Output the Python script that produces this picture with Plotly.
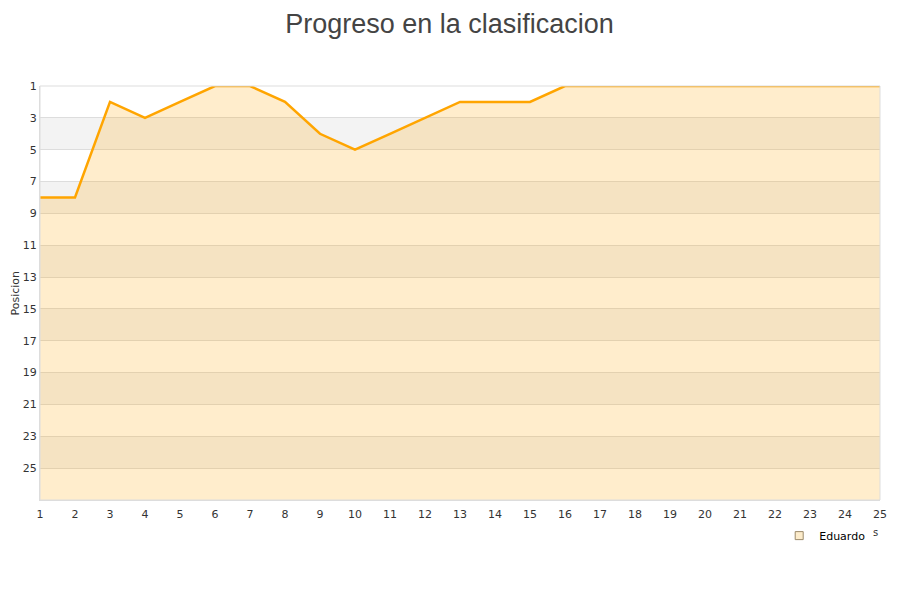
import plotly.graph_objects as go

jornadas = list(range(1, 26))
posiciones = [8, 8, 2, 3, 2, 1, 1, 2, 4, 5, 4, 3, 2, 2, 2, 1, 1, 1, 1, 1, 1, 1, 1, 1, 1]
y_ticks = list(range(1, 26, 2))
baseline = 27

fig = go.Figure()

fig.add_trace(go.Scatter(x=jornadas, y=[baseline] * len(jornadas), mode="lines",
                         line=dict(width=0, color="rgba(0,0,0,0)"), showlegend=False,
                         hoverinfo="skip"))
fig.add_trace(go.Scatter(x=jornadas, y=posiciones, mode="lines", name="Eduardo",
                         line=dict(color="#ffa500", width=2.5), showlegend=False,
                         fill="tonexty", fillcolor="rgba(255,165,0,0.2)"))
fig.add_trace(go.Scatter(x=[None], y=[None], mode="markers", name="Eduardo",
                         marker=dict(symbol="square", size=8, color="#fdeccb",
                                     line=dict(color="#9c8a6a", width=1))))

shapes = []
for lo in range(3, 27, 4):
    shapes.append(dict(type="rect", xref="paper", yref="y", x0=0, x1=1, y0=lo, y1=lo + 2,
                       fillcolor="#f3f3f3", line=dict(width=0), layer="below"))
shapes.append(dict(type="rect", xref="paper", yref="paper", x0=0, x1=1, y0=0, y1=1,
                   line=dict(color="#dddddd", width=1), fillcolor="rgba(0,0,0,0)"))
fig.update_layout(
    width=900, height=600,
    paper_bgcolor="white", plot_bgcolor="white",
    margin=dict(l=32, r=28, t=78, b=108, autoexpand=False),
    title=dict(text="Progreso en la clasificacion", x=441.5 / 900, xanchor="center", y=1 - 15.5 / 600,
               yanchor="middle", yref="container",
               font=dict(family="Liberation Sans, Arial", size=27, color="#444444")),
    font=dict(family="DejaVu Sans", size=11, color="#333333"),
    shapes=shapes,
    xaxis=dict(range=[1, 25], tickmode="array", tickvals=jornadas, showgrid=False,
               zeroline=False, showline=True, linecolor="#dddddd", automargin=False,
               ticks="outside", ticklen=4, tickcolor="rgba(0,0,0,0)",
               tickfont=dict(size=11, color="#333333")),
    yaxis=dict(range=[27, 1], tickmode="array", tickvals=y_ticks, showgrid=True,
               gridcolor="#dddddd", zeroline=False, showline=True, linecolor="#dddddd",
               ticks="", automargin=False, tickfont=dict(size=11, color="#333333")),
    legend=dict(x=0.880, xanchor="left", y=-0.051, yanchor="top", bgcolor="rgba(0,0,0,0)",
                font=dict(size=11, color="#000000")),
    annotations=[
        dict(text="Posicion", textangle=-90, x=0, y=0.5, xref="paper", yref="paper",
             xshift=-25.5, showarrow=False, xanchor="center", yanchor="middle",
             font=dict(size=11, color="#333333")),
        dict(text="s", x=1, y=0, xref="paper", yref="paper", xshift=-5, yshift=-32,
             showarrow=False, xanchor="center", yanchor="middle",
             font=dict(size=10, color="#333333")),
    ],
)

fig.write_html("out.html")
